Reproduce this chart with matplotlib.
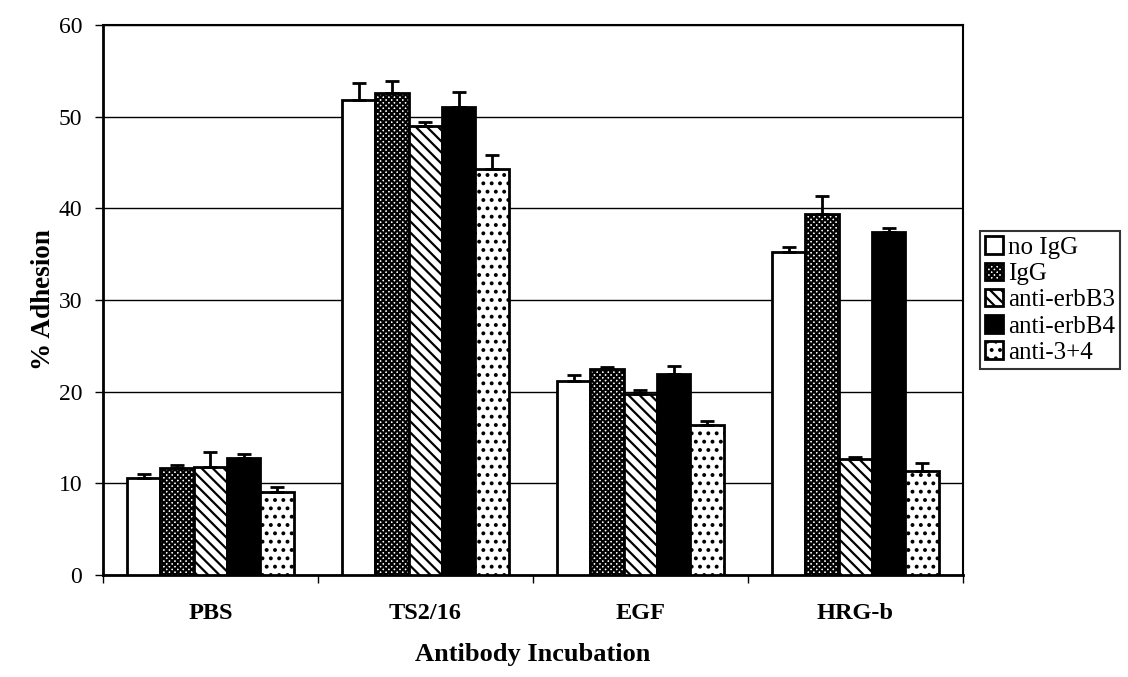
import numpy as np
import matplotlib.pyplot as plt

plt.rcParams['font.family'] = ['Liberation Serif', 'DejaVu Serif']
plt.rcParams['hatch.linewidth'] = 1.6

groups = ['PBS', 'TS2/16', 'EGF', 'HRG-b']
series = ['no IgG', 'IgG', 'anti-erbB3', 'anti-erbB4', 'anti-3+4']

no_igg = [10.6, 51.8, 21.2, 35.2]
igg = [11.7, 52.6, 22.5, 39.4]
erbb3 = [11.8, 49.0, 19.8, 12.7]
erbb4 = [12.8, 51.1, 21.9, 37.4]
anti34 = [9.1, 44.3, 16.4, 11.3]

no_igg_err = [0.4, 1.9, 0.6, 0.6]
igg_err = [0.35, 1.3, 0.2, 1.9]
erbb3_err = [1.6, 0.4, 0.35, 0.15]
erbb4_err = [0.45, 1.6, 0.9, 0.5]
anti34_err = [0.45, 1.5, 0.4, 0.9]

values = [no_igg, igg, erbb3, erbb4, anti34]
errors = [no_igg_err, igg_err, erbb3_err, erbb4_err, anti34_err]

styles = [
    dict(facecolor='white', hatch=None),
    dict(facecolor='white', hatch='xxxxxx'),
    dict(facecolor='white', hatch='\\\\\\'),
    dict(facecolor='black', hatch=None),
    dict(facecolor='white', hatch='..'),
]

fig = plt.figure(figsize=(11.28, 6.77), dpi=100)
ax = fig.add_axes([0.0913, 0.1507, 0.7624, 0.8123])

x = np.arange(len(groups)) + 0.5
w = 0.155
for i, (vals, errs, st) in enumerate(zip(values, errors, styles)):
    pos = x + (i - 2) * w
    ax.bar(pos, vals, w, color=st['facecolor'], hatch=st['hatch'],
           edgecolor='black', linewidth=2, label=series[i], zorder=3)
    ax.errorbar(pos, vals, yerr=[np.zeros(len(errs)), errs], fmt='none',
                ecolor='black', elinewidth=2, capsize=5, capthick=2, zorder=4)

ax.set_xlim(0, len(groups))
ax.set_ylim(0, 60)
ax.set_yticks(np.arange(0, 61, 10))
ax.yaxis.grid(True, color='black', linewidth=1)
ax.set_axisbelow(True)

ax.set_xticks(np.arange(0, len(groups) + 1))
ax.set_xticklabels([])
ax.set_xticks(x, minor=True)
ax.set_xticklabels(groups, minor=True, fontsize=17.5, fontweight='bold')
ax.tick_params(axis='x', which='minor', length=0, pad=20)
ax.tick_params(axis='x', which='major', length=6, width=1)
ax.tick_params(axis='y', labelsize=17, length=6, width=1, pad=9)

for s in ax.spines.values():
    s.set_linewidth(1.5)
ax.spines['left'].set_linewidth(2)
ax.spines['bottom'].set_linewidth(2)

ax.set_xlabel('Antibody Incubation', fontsize=19, fontweight='bold', labelpad=14)
ax.set_ylabel('% Adhesion', fontsize=19.5, fontweight='bold', labelpad=2)

leg = ax.legend(loc='center left', bbox_to_anchor=(1.02, 0.5), fontsize=18,
                frameon=True, fancybox=False, edgecolor='black',
                handlelength=0.7, handleheight=0.7, handletextpad=0.2,
                borderpad=0.2, borderaxespad=0, labelspacing=0.15)
leg.get_frame().set_linewidth(1.5)

fig.savefig('out.png', dpi=100)
